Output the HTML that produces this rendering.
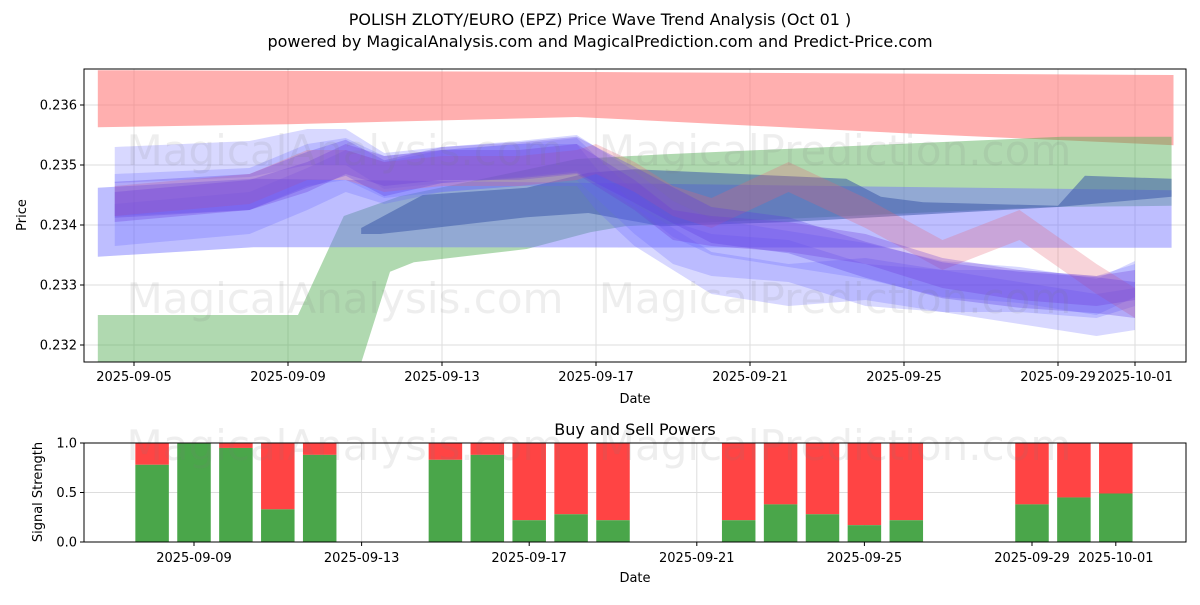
<!DOCTYPE html>
<html><head><meta charset="utf-8"><style>
body{margin:0;background:#fff;font-family:"Liberation Sans","DejaVu Sans",sans-serif}
svg text{font-family:"DejaVu Sans","Liberation Sans",sans-serif}
</style></head><body>
<svg id="c" width="1200" height="600" xmlns="http://www.w3.org/2000/svg">
<rect width="1200" height="600" fill="#fff"/>
<text x="600" y="25" text-anchor="middle" font-size="16">POLISH ZLOTY/EURO (EPZ) Price Wave Trend Analysis (Oct 01 )</text>
<text x="600" y="47" text-anchor="middle" font-size="16">powered by MagicalAnalysis.com and MagicalPrediction.com and Predict-Price.com</text>
<g id="topg"></g><g id="botg"></g>
</svg>
<script>
// ---- data ----
const priceTicks=[0.232,0.233,0.234,0.235,0.236];
const topDateLabels=["2025-09-05","2025-09-09","2025-09-13","2025-09-17","2025-09-21","2025-09-25","2025-09-29","2025-10-01"];
const topDateDays=[0,4,8,12,16,20,24,26];
const redUpper=[[-0.94,0.23658],[12,0.23655],[27,0.2365]];
const redLower=[[-0.94,0.23563],[4,0.23568],[11.5,0.2358],[20,0.23553],[27,0.23533]];
const greenUpper=[[-0.94,0.2325],[4.26,0.2325],[5.45,0.23415],[6.9,0.23448],[11.5,0.2351],[13.8,0.23518],[24.1,0.23547],[26.95,0.23547]];
const greenLower=[[-0.94,0.2315],[5.8,0.2315],[6.65,0.23322],[7.27,0.23338],[10.2,0.2336],[11.85,0.23388],[12.75,0.23398],[23.7,0.2343],[26.95,0.23432]];
const lightUpper=[[-0.94,0.23462],[3.1,0.23477],[26.95,0.23458]];
const lightLower=[[-0.94,0.23347],[3.1,0.23363],[26.95,0.23362]];
const darkUpper=[[5.9,0.23395],[7.5,0.2345],[10.2,0.23462],[11.8,0.23487],[13,0.23493],[18.5,0.23477],[19.4,0.23447],[20.5,0.23438],[24,0.23432],[24.7,0.23482],[26.95,0.23477]];
const darkLower=[[5.9,0.23385],[6.4,0.23385],[7.1,0.2339],[10.2,0.23413],[11.8,0.2342],[13.7,0.23398],[17,0.23405],[24,0.2343],[26.95,0.23447]];
const waveDays=[-0.5,3,4.5,5.5,6.5,8,10,11.5,12,13,14,15,17,19,21,23,25,26];
const wave1=[0.23442,0.23455,0.23492,0.23512,0.23478,0.235,0.23508,0.23517,0.235,0.23467,0.23433,0.234,0.23383,0.23342,0.23308,0.23292,0.23283,0.23275];
const wave2=[0.2345,0.2346,0.2350,0.2351,0.2348,0.2349,0.2350,0.2351,0.2348,0.2342,0.2337,0.2335,0.2334,0.2330,0.2329,0.2329,0.2328,0.2330];
const wave3=[0.2350,0.2351,0.2353,0.2353,0.2349,0.2350,0.2351,0.2352,0.2350,0.2346,0.2341,0.2338,0.2336,0.2334,0.2331,0.2330,0.2328,0.2331];
const wave4=[0.2344,0.2346,0.2350,0.2350,0.2348,0.2349,0.2349,0.2350,0.2351,0.2348,0.2344,0.2342,0.2348,0.2342,0.2335,0.2340,0.2331,0.2327];
const wave5=[0.2343,0.2345,0.2348,0.2351,0.2349,0.2350,0.2350,0.2351,0.2349,0.2345,0.2340,0.2339,0.2338,0.2336,0.2332,0.2330,0.2329,0.2330];
const wave6=[0.2340,0.2342,0.2346,0.2349,0.2347,0.2349,0.2350,0.2350,0.2346,0.2340,0.2336,0.2332,0.2330,0.2331,0.2329,0.2327,0.2325,0.2326];
const barDays=[3,4,5,6,7,10,11,12,13,14,17,18,19,20,21,24,25,26];
const buyValues=[0.78,1.0,0.95,0.33,0.88,0.83,0.88,0.22,0.28,0.22,0.22,0.38,0.28,0.17,0.22,0.38,0.45,0.49];
const botDateLabels=["2025-09-09","2025-09-13","2025-09-17","2025-09-21","2025-09-25","2025-09-29","2025-10-01"];
const botDateDays=[4,8,12,16,20,24,26];
const signalTicks=[0,0.5,1.0];
// ---- scales ----
const NS="http://www.w3.org/2000/svg";
const T={l:84,r:1186,t:69,b:362};
const xT=d=>134+38.5*d, yT=p=>165-(p-0.235)*60000;
const B={l:84,r:1186,t:443,b:542};
const xB=d=>194+41.9*(d-4), yB=v=>542-99*v;
function el(tag,attrs,parent,text){const e=document.createElementNS(NS,tag);for(const k in attrs)e.setAttribute(k,attrs[k]);if(text!==undefined)e.textContent=text;parent.appendChild(e);return e;}
const topG=document.getElementById('topg'), botG=document.getElementById('botg');
const cp=el('clipPath',{id:'ct'},topG);el('rect',{x:T.l,y:T.t,width:T.r-T.l,height:T.b-T.t},cp);
const grid=el('g',{},topG);


priceTicks.forEach(p=>el('line',{x1:T.l,x2:T.r,y1:yT(p),y2:yT(p),stroke:'#ddd','stroke-width':1},grid));
topDateDays.forEach(d=>el('line',{y1:T.t,y2:T.b,x1:xT(d),x2:xT(d),stroke:'#ddd','stroke-width':1},grid));
const plot=el('g',{'clip-path':'url(#ct)'},topG);
function band(up,lo,fill,name){const pts=up.map(a=>xT(a[0])+','+yT(a[1])).concat(lo.slice().reverse().map(a=>xT(a[0])+','+yT(a[1])));
 const e=el('polygon',{points:pts.join(' '),fill:fill},plot);
 
 }
band(redUpper,redLower,'rgba(255,110,110,0.55)','red-band');
band(greenUpper,greenLower,'rgba(80,170,80,0.45)','green-band');
band(lightUpper,lightLower,'rgba(110,110,255,0.45)','blue-band');
band(darkUpper,darkLower,'rgba(60,90,170,0.55)','dark-blue-band');
function wave(vals,hw,fill,name){const up=waveDays.map((d,i)=>[d,vals[i]+hw]),lo=waveDays.map((d,i)=>[d,vals[i]-hw]);band(up,lo,fill,name);}
wave(wave2,0.00035,'rgba(100,100,255,0.25)','wave-2');
wave(wave3,0.00030,'rgba(100,100,255,0.25)','wave-3');
wave(wave6,0.00035,'rgba(100,100,255,0.25)','wave-6');
wave(wave4,0.00025,'rgba(230,100,120,0.28)','wave-4');
wave(wave1,0.00030,'rgba(90,60,230,0.3)','wave-1');
wave(wave5,0.00025,'rgba(110,60,220,0.3)','wave-5');
[[345,165],[835,165],[345,313],[835,313]].forEach((p,i)=>{const t=el('text',{x:p[0],y:p[1],'text-anchor':'middle','font-size':42,fill:'rgba(120,120,120,0.13)'},topG,i%2?'MagicalPrediction.com':'MagicalAnalysis.com');
 
 });
el('rect',{x:T.l,y:T.t,width:T.r-T.l,height:T.b-T.t,fill:'none',stroke:'#000','stroke-width':1},topG);
priceTicks.forEach(p=>{el('line',{x1:T.l-4,x2:T.l,y1:yT(p),y2:yT(p),stroke:'#000'},topG);
 const t=el('text',{x:T.l-7,y:yT(p)+4.5,'text-anchor':'end','font-size':13},topG,p.toFixed(3));
 
 });
topDateDays.forEach((d,i)=>{el('line',{x1:xT(d),x2:xT(d),y1:T.b,y2:T.b+4,stroke:'#000'},topG);
 const t=el('text',{x:xT(d),y:T.b+19,'text-anchor':'middle','font-size':13},topG,topDateLabels[i]);
 
 });
el('text',{x:635,y:403,'text-anchor':'middle','font-size':13,},topG,'Date');
el('text',{x:26,y:215,'text-anchor':'middle','font-size':13,transform:'rotate(-90 26 215)',},topG,'Price');
el('text',{x:635,y:435,'text-anchor':'middle','font-size':16,},botG,'Buy and Sell Powers');
const bg=el('g',{},botG);
signalTicks.forEach(v=>el('line',{x1:B.l,x2:B.r,y1:yB(v),y2:yB(v),stroke:'#ddd'},bg));
botDateDays.forEach(d=>el('line',{x1:xB(d),x2:xB(d),y1:B.t,y2:B.b,stroke:'#ddd'},bg));
barDays.forEach((d,i)=>{const x=xB(d)-16.75,v=buyValues[i];
 const s=el('rect',{x:x,y:yB(1),width:33.5,height:yB(v)-yB(1),fill:'#ff4444'},botG);
 
 
 const b=el('rect',{x:x,y:yB(v),width:33.5,height:yB(0)-yB(v),fill:'#4aa64a'},botG);
 
 });
[[345,460],[835,460]].forEach((p,i)=>{const t=el('text',{x:p[0],y:p[1],'text-anchor':'middle','font-size':42,fill:'rgba(120,120,120,0.13)'},botG,i?'MagicalPrediction.com':'MagicalAnalysis.com');
 
 });
el('rect',{x:B.l,y:B.t,width:B.r-B.l,height:B.b-B.t,fill:'none',stroke:'#000'},botG);
signalTicks.forEach(v=>{el('line',{x1:B.l-4,x2:B.l,y1:yB(v),y2:yB(v),stroke:'#000'},botG);
 const t=el('text',{x:B.l-7,y:yB(v)+4.5,'text-anchor':'end','font-size':13},botG,v.toFixed(1));
 
 });
botDateDays.forEach((d,i)=>{el('line',{x1:xB(d),x2:xB(d),y1:B.b,y2:B.b+4,stroke:'#000'},botG);
 const t=el('text',{x:xB(d),y:B.b+20,'text-anchor':'middle','font-size':13},botG,botDateLabels[i]);
 
 });
el('text',{x:635,y:582,'text-anchor':'middle','font-size':13,},botG,'Date');
el('text',{x:42,y:492,'text-anchor':'middle','font-size':13,transform:'rotate(-90 42 492)',},botG,'Signal Strength');
</script>
</body></html>
